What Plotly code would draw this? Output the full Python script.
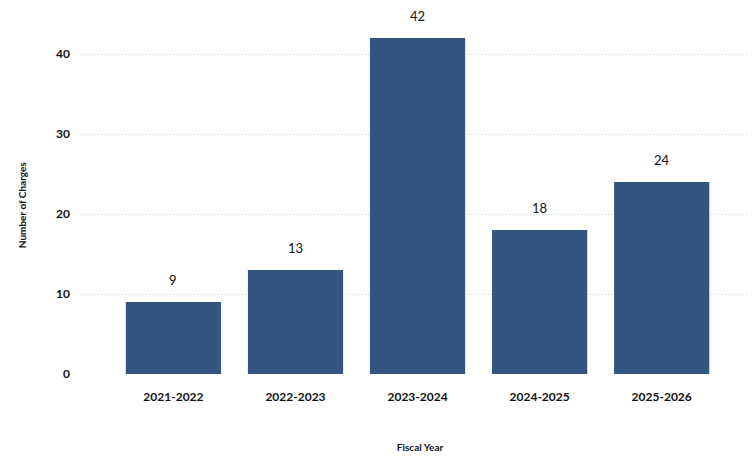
import plotly.graph_objects as go

years = ["2021-2022", "2022-2023", "2023-2024", "2024-2025", "2025-2026"]
charges = [9, 13, 42, 18, 24]

bar_color = "#34557f"
font_family = "Lato"

fig = go.Figure()
fig.add_trace(go.Bar(
    x=years,
    y=charges,
    marker=dict(color=bar_color, line=dict(width=0)),
    hoverinfo="x+y",
))

# value labels above the bars
for yr, n in zip(years, charges):
    fig.add_annotation(
        x=yr, y=n, text=str(n), showarrow=False,
        yanchor="bottom", yshift=12,
        font=dict(family=font_family, size=13, color="#111111"),
    )

# y title as annotation so it can sit a little below centre like the original
fig.add_annotation(
    xref="paper", yref="y", x=0, y=21.1, xshift=-55,
    text="Number of Charges", textangle=-90, showarrow=False,
    xanchor="center", yanchor="middle",
    font=dict(family=font_family, size=10, weight="bold", color="#111111"),
)

# page body adds an 8px offset, so margins are trimmed to compensate
fig.update_layout(
    width=755, height=470,
    margin=dict(l=69, r=0, t=6, b=104),
    paper_bgcolor="white", plot_bgcolor="white",
    bargap=0.22,
    showlegend=False,
    font=dict(family=font_family, color="#111111"),
)

fig.update_xaxes(
    range=[-0.79, 4.83],
    showgrid=False, showline=False, zeroline=False,
    ticks="", ticklabelstandoff=14,
    tickfont=dict(family=font_family, size=12, weight="bold", color="#111111"),
    title=dict(text="Fiscal Year", standoff=40,
               font=dict(family=font_family, size=10, weight="bold", color="#111111")),
)

fig.update_yaxes(
    range=[0, 45],
    tickvals=[0, 10, 20, 30, 40],
    showgrid=True, gridcolor="#cccccc", griddash="1px,2px", gridwidth=1,
    zeroline=False, showline=False,
    ticks="", ticklabelstandoff=6,
    tickfont=dict(family=font_family, size=12, weight="bold", color="#111111"),
)

fig.write_html("out.html")
